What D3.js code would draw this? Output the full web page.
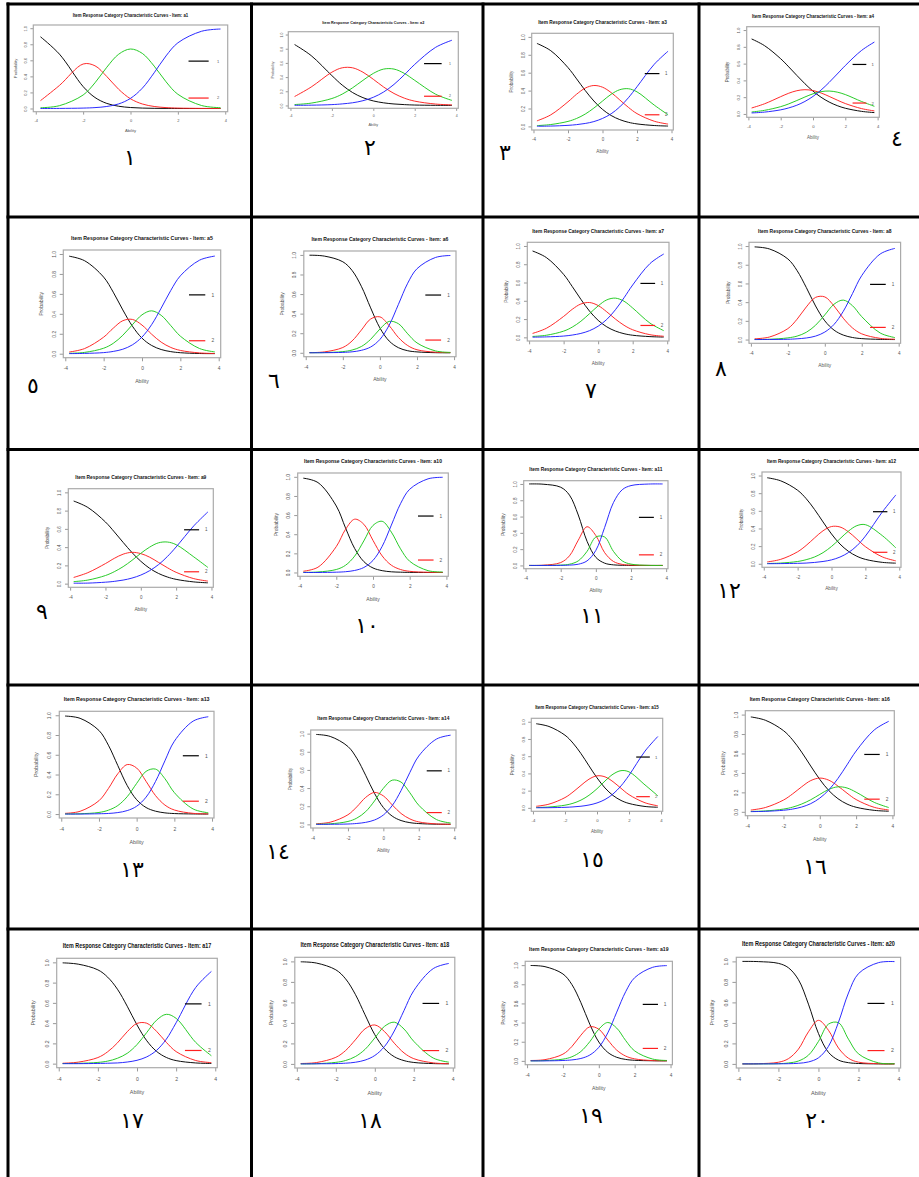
<!DOCTYPE html>
<html>
<head>
<meta charset="utf-8">
<script src="https://cdn.jsdelivr.net/npm/d3@7"></script>
<style>
    body { margin: 0; background: #fff; }
    svg { display: block; }
</style>
</head>
<body>
<div id="chart"></div>
<script>
const abilityPoints = [-3.8, -3, -2, -1.5, -1, -0.5, 0, 0.5, 1, 1.5, 2, 3, 3.8];

const itemNames = ["a1", "a2", "a3", "a4", "a5", "a6", "a7", "a8", "a9", "a10",
    "a11", "a12", "a13", "a14", "a15", "a16", "a17", "a18", "a19", "a20"];

const cellLabels = ["١", "٢", "٣", "٤", "٥", "٦", "٧", "٨", "٩", "١٠",
    "١١", "١٢", "١٣", "١٤", "١٥", "١٦", "١٧", "١٨", "١٩", "٢٠"];

const xTickValues = [-4, -2, 0, 2, 4];
const yTickValues = [0, 0.2, 0.4, 0.6, 0.8, 1.0];
const legendKeys = ["1", "2"];

// category 1 (black)
const catBlack = [
    [.893, .677, .273, .137, .063, .028, .012, .005, .002, .001, 0, 0, 0],
    [.859, .703, .421, .287, .182, .110, .064, .037, .021, .012, .006, .002, .001],
    [.927, .846, .657, .531, .401, .284, .190, .122, .076, .046, .028, .010, .004],
    [.894, .814, .658, .561, .459, .360, .272, .199, .142, .099, .068, .031, .016],
    [.978, .933, .768, .617, .439, .276, .156, .083, .042, .021, .010, .002, .001],
    [.997, .988, .930, .841, .679, .459, .254, .120, .052, .021, .009, .001, 0],
    [.945, .873, .689, .556, .416, .287, .186, .115, .069, .040, .023, .008, .003],
    [.991, .969, .862, .737, .556, .359, .200, .101, .048, .022, .010, .002, 0],
    [.905, .835, .675, .567, .452, .341, .245, .168, .112, .073, .047, .019, .009],
    [.986, .940, .695, .467, .251, .114, .047, .019, .007, .003, .001, 0, 0],
    [1.0, .997, .960, .863, .619, .296, .099, .028, .007, .002, 0, 0, 0],
    [.975, .940, .833, .739, .615, .474, .338, .224, .141, .085, .050, .016, .007],
    [.992, .969, .846, .697, .491, .288, .145, .066, .029, .012, .005, .001, 0],
    [.991, .969, .858, .728, .541, .342, .186, .091, .042, .019, .009, .002, .001],
    [.977, .945, .844, .752, .630, .488, .349, .231, .144, .086, .051, .016, .007],
    [.976, .942, .835, .740, .614, .471, .333, .218, .135, .080, .047, .015, .006],
    [.995, .982, .926, .854, .735, .567, .382, .226, .121, .061, .030, .007, .002],
    [.996, .984, .918, .830, .679, .479, .285, .148, .070, .032, .014, .003, .001],
    [.996, .984, .908, .797, .609, .382, .197, .089, .037, .015, .006, .001, 0],
    [1.0, .998, .981, .938, .822, .583, .297, .113, .037, .012, .004, 0, 0]
];

// category 2 (red)
const catRed = [
    [.098, .287, .554, .532, .398, .239, .121, .056, .025, .011, .005, .001, 0],
    [.126, .260, .469, .531, .531, .469, .369, .260, .169, .103, .061, .020, .008],
    [.062, .129, .275, .360, .428, .457, .438, .378, .296, .213, .143, .058, .026],
    [.071, .121, .206, .247, .277, .289, .279, .250, .209, .165, .124, .064, .036],
    [.017, .051, .166, .256, .331, .344, .287, .196, .116, .063, .033, .008, .002],
    [.002, .009, .054, .121, .232, .345, .367, .277, .156, .074, .031, .006, .002],
    [.043, .099, .229, .307, .365, .381, .348, .279, .200, .132, .083, .029, .012],
    [.008, .027, .117, .218, .349, .451, .456, .359, .228, .124, .061, .013, .004],
    [.068, .120, .220, .277, .323, .343, .329, .290, .233, .175, .124, .055, .028],
    [.013, .055, .271, .450, .557, .504, .335, .173, .076, .031, .012, .002, 0],
    [0, .003, .035, .118, .310, .475, .367, .157, .049, .013, .004, 0, 0],
    [.021, .050, .136, .207, .293, .374, .422, .417, .362, .279, .194, .078, .033],
    [.007, .028, .135, .258, .408, .501, .466, .331, .187, .091, .041, .007, .002],
    [.007, .024, .106, .193, .297, .352, .314, .215, .120, .060, .027, .005, .001],
    [.018, .043, .119, .184, .261, .333, .372, .360, .304, .227, .153, .059, .024],
    [.018, .044, .121, .184, .257, .321, .347, .325, .265, .192, .126, .046, .019],
    [.004, .015, .060, .117, .205, .315, .397, .399, .319, .210, .119, .031, .010],
    [.004, .013, .064, .130, .234, .342, .380, .315, .202, .107, .051, .010, .002],
    [.004, .013, .070, .150, .268, .356, .331, .218, .112, .050, .021, .003, .001],
    [0, .002, .016, .051, .144, .313, .425, .328, .155, .055, .017, .002, 0]
];

// category 3 (green)
const catGreen = [
    [.009, .035, .168, .320, .514, .676, .741, .686, .528, .333, .177, .037, .010],
    [.013, .033, .098, .160, .249, .354, .452, .513, .513, .452, .354, .160, .071],
    [.009, .021, .056, .089, .138, .205, .283, .359, .410, .421, .386, .238, .130],
    [.023, .043, .087, .120, .160, .202, .240, .266, .273, .260, .231, .149, .091],
    [.004, .013, .055, .104, .185, .291, .390, .430, .385, .282, .176, .052, .018],
    [.001, .002, .012, .028, .064, .137, .243, .321, .297, .194, .101, .019, .004],
    [.010, .023, .068, .112, .176, .259, .344, .410, .429, .395, .321, .156, .073],
    [.001, .003, .018, .037, .078, .153, .264, .378, .422, .362, .245, .070, .021],
    [.022, .039, .089, .131, .186, .255, .332, .400, .447, .456, .427, .293, .177],
    [.001, .005, .031, .075, .171, .330, .492, .535, .422, .247, .117, .019, .005],
    [0, 0, .004, .015, .056, .173, .349, .349, .173, .056, .016, .001, 0],
    [.003, .008, .026, .046, .077, .126, .196, .283, .370, .432, .443, .319, .180],
    [.001, .003, .016, .039, .086, .176, .310, .432, .455, .358, .217, .051, .013],
    [.002, .006, .032, .069, .140, .258, .397, .487, .466, .348, .211, .053, .015],
    [.004, .010, .031, .053, .090, .146, .222, .312, .391, .432, .418, .266, .140],
    [.004, .009, .028, .048, .080, .124, .179, .231, .257, .245, .202, .097, .044],
    [.001, .003, .012, .025, .053, .102, .188, .308, .429, .487, .447, .210, .078],
    [0, .002, .015, .033, .071, .142, .253, .367, .407, .340, .220, .057, .017],
    [0, .003, .018, .043, .098, .201, .331, .401, .342, .212, .104, .019, .004],
    [0, 0, .002, .009, .028, .085, .219, .388, .402, .241, .098, .010, .002]
];

// category 4 (blue)
const catBlue = [
    [0, .001, .005, .011, .025, .057, .126, .253, .445, .655, .818, .962, .990],
    [.002, .004, .012, .022, .038, .067, .115, .190, .297, .433, .579, .818, .920],
    [.002, .004, .012, .020, .033, .054, .089, .141, .218, .320, .443, .694, .840],
    [.012, .022, .049, .072, .104, .149, .209, .285, .376, .476, .577, .756, .857],
    [.001, .003, .011, .023, .045, .089, .167, .291, .457, .634, .781, .938, .979],
    [0, .001, .004, .010, .025, .059, .136, .282, .495, .711, .859, .974, .994],
    [.002, .005, .014, .025, .043, .073, .122, .196, .302, .433, .573, .807, .912],
    [0, .001, .003, .008, .017, .037, .080, .162, .302, .492, .684, .915, .975],
    [.005, .006, .016, .025, .039, .061, .094, .142, .208, .296, .402, .633, .786],
    [0, 0, .003, .008, .021, .052, .126, .273, .495, .719, .870, .979, .995],
    [0, 0, .001, .004, .015, .056, .185, .466, .771, .929, .980, .999, 1.0],
    [.001, .002, .005, .008, .015, .026, .044, .076, .127, .204, .313, .587, .780],
    [0, 0, .003, .006, .015, .035, .079, .171, .329, .539, .737, .941, .985],
    [0, .001, .004, .010, .022, .048, .103, .207, .372, .573, .753, .940, .983],
    [.001, .002, .006, .011, .019, .033, .057, .097, .161, .255, .378, .659, .829],
    [.002, .005, .016, .028, .049, .084, .141, .226, .343, .483, .625, .842, .931],
    [0, 0, .002, .004, .007, .016, .033, .067, .131, .242, .404, .752, .910],
    [0, .001, .003, .007, .016, .037, .082, .170, .321, .521, .715, .930, .980],
    [0, 0, .004, .010, .025, .061, .141, .292, .509, .723, .869, .977, .995],
    [0, 0, .001, .002, .006, .019, .059, .171, .406, .692, .881, .988, .998]
];

// where each pasted plot sits on the page: box [left, top, right, bottom]
const panelBoxes = [
    [33.3, 25, 227.7, 111.7], [288.3, 31.7, 458.3, 108.3], [531.7, 33.3, 673.3, 130], [746.7, 26.7, 879.3, 117.3],
    [63.3, 250, 220.7, 357.7], [303.8, 251, 456, 356.7], [527.3, 242.3, 669, 341], [749, 242.3, 900.6, 343.3],
    [68.3, 488.7, 213.3, 587.3], [297.7, 473, 448.3, 576.3], [523.7, 480.7, 668, 568.7], [762, 472, 901, 567.3],
    [59.3, 711.3, 214, 818], [310.7, 730, 456, 828], [531.3, 718.3, 662.7, 811.3], [745.3, 710.7, 894.3, 815.7],
    [56.7, 958.3, 217.3, 1067.7], [294.8, 957.3, 454.8, 1068], [525.2, 961.3, 672.4, 1064.7], [736.3, 957.3, 900.6, 1068]
];
// width of each title on the page (it sets the scale of the screenshot)
const titleWidths = [116.7, 103, 130, 123.3, 143.3, 138.2, 133.1, 134.8, 132.3, 139.3,
    134.3, 130.3, 147.3, 133.3, 125, 141.7, 150, 150.2, 140.8, 154.5];
const labelPos = [
    [130, 157], [370, 147], [505, 152], [897, 138],
    [33, 385], [274, 380], [591, 390], [721, 368],
    [42, 611], [367, 625], [592, 615], [729, 590],
    [132, 869], [278, 851], [592, 859], [815, 866],
    [132, 1120], [370, 1120], [591, 1115], [817, 1120]
];

const WIDTH = 919, HEIGHT = 1177;
const colLines = [8, 251.5, 483, 699];
const rowLines = [4, 217, 449.5, 685, 929];
const CURVE_COLORS = ["#000000", "#ff2020", "#1ec81e", "#2020ff"];
const FONT = "'Liberation Sans', Arial, sans-serif";

let svg = d3.select("#chart").append("svg")
    .attr("width", WIDTH).attr("height", HEIGHT);

svg.append("rect").attr("width", WIDTH).attr("height", HEIGHT).attr("fill", "#fff");

for (let i = 0; i < itemNames.length; i++) {
    drawPanel(svg, i);
}

// table borders
svg.append("g").selectAll("line").data(colLines).enter().append("line")
    .attr("x1", d => d).attr("x2", d => d).attr("y1", rowLines[0] - 1.5).attr("y2", HEIGHT)
    .attr("stroke", "#000").attr("stroke-width", 3);
svg.append("g").selectAll("line").data(rowLines).enter().append("line")
    .attr("x1", colLines[0] - 1.5).attr("x2", WIDTH).attr("y1", d => d).attr("y2", d => d)
    .attr("stroke", "#000").attr("stroke-width", 3);

function drawPanel(svg, i) {
    let [l, t, r, b] = panelBoxes[i];
    let tw = titleWidths[i];
    let fs = tw * 0.034;

    let x = d3.scaleLinear().domain([-4.104, 4.104]).range([l, r]);
    let y = d3.scaleLinear().domain([-0.04, 1.04]).range([b, t]);
    let g = svg.append("g").attr("font-family", FONT);

    // title
    g.append("text")
        .attr("x", (l + r) / 2).attr("y", t - 0.086 * tw).attr("dy", "0.35em")
        .attr("text-anchor", "middle").attr("font-weight", "bold")
        .attr("font-size", tw * 0.042).attr("fill", "#111")
        .attr("textLength", tw * 0.99).attr("lengthAdjust", "spacingAndGlyphs")
        .text("Item Response Category Characteristic Curves - Item: " + itemNames[i]);

    // axes
    let xAxis = g.append("g")
        .attr("transform", "translate(0," + b + ")")
        .call(d3.axisBottom(x).tickValues(xTickValues).tickSize(tw * 0.025)
            .tickFormat(d => String(d)));
    xAxis.select(".domain").remove();
    xAxis.selectAll("line").attr("stroke", "#999");
    xAxis.selectAll("text")
        .attr("y", 0.075 * tw).attr("dy", "0.35em")
        .attr("font-size", fs).attr("font-family", FONT).attr("fill", "#555");

    let yAxis = g.append("g")
        .attr("transform", "translate(" + l + ",0)")
        .call(d3.axisLeft(y).tickValues(yTickValues).tickSize(tw * 0.025)
            .tickFormat(d3.format(".1f")));
    yAxis.select(".domain").remove();
    yAxis.selectAll("line").attr("stroke", "#999");
    yAxis.selectAll("text")
        .attr("x", 0).attr("dy", "0.35em").attr("text-anchor", "middle")
        .attr("transform", "translate(" + (-0.065 * tw) + ",0) rotate(-90)")
        .attr("font-size", fs).attr("font-family", FONT).attr("fill", "#555");

    g.append("text")
        .attr("x", (l + r) / 2).attr("y", b + 0.164 * tw).attr("dy", "0.35em")
        .attr("text-anchor", "middle").attr("font-size", tw * 0.036).attr("fill", "#555")
        .text("Ability");
    g.append("text")
        .attr("transform", "translate(" + (l - 0.155 * tw) + "," + ((t + b) / 2) + ") rotate(-90)")
        .attr("dy", "0.35em").attr("text-anchor", "middle")
        .attr("font-size", tw * 0.036).attr("fill", "#555")
        .text("Probability");

    // curves
    let line = d3.line()
        .x((d, k) => x(abilityPoints[k]))
        .y(d => y(d))
        .curve(d3.curveCatmullRom.alpha(0.5));

    [catBlack, catRed, catGreen, catBlue].forEach(function (cat, c) {
        g.append("path")
            .attr("d", line(cat[i]))
            .attr("fill", "none")
            .attr("stroke", CURVE_COLORS[c])
            .attr("stroke-width", 0.95);
    });

    // box
    g.append("rect")
        .attr("x", l).attr("y", t).attr("width", r - l).attr("height", b - t)
        .attr("fill", "none").attr("stroke", "#aaa").attr("stroke-width", 1.2);

    // legend (only keys 1 and 2 are visible in the plots)
    let legendY = [0.59, 0.13];
    legendKeys.forEach(function (key, k) {
        g.append("line")
            .attr("x1", x(2.45)).attr("x2", x(3.3))
            .attr("y1", y(legendY[k])).attr("y2", y(legendY[k]))
            .attr("stroke", CURVE_COLORS[k]).attr("stroke-width", 1.2);
        g.append("text")
            .attr("x", x(3.7)).attr("y", y(legendY[k])).attr("dy", "0.35em")
            .attr("text-anchor", "middle").attr("font-size", fs).attr("fill", "#555")
            .text(key);
    });

    // item number in Arabic-Indic digits
    svg.append("text")
        .attr("x", labelPos[i][0]).attr("y", labelPos[i][1]).attr("dy", "0.35em")
        .attr("text-anchor", "middle")
        .attr("font-family", "'DejaVu Sans', sans-serif").attr("font-size", 22)
        .attr("fill", "#000")
        .text(cellLabels[i]);
}
</script>
</body>
</html>
